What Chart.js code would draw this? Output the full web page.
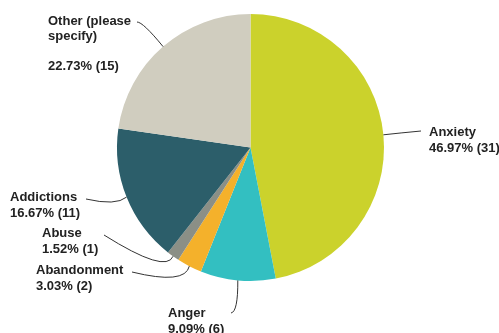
<!DOCTYPE html>
<html>
<head>
<meta charset="utf-8">
<script src="https://cdn.jsdelivr.net/npm/chart.js@4/dist/chart.umd.min.js"></script>
<style>
  html, body { margin: 0; padding: 0; background: #fff; }
  #wrap { width: 499px; height: 333px; }
</style>
</head>
<body>
<div id="wrap"><canvas id="pieChart" width="499" height="333"></canvas></div>
<script>
// answers and counts
const categorias = ["Anxiety", "Anger", "Abandonment", "Abuse", "Addictions", "Other (please specify)"];
const cantidades = [31, 6, 2, 1, 11, 15];
const colores = ["#CBD22C", "#33BFC1", "#F4B12B", "#8B8F86", "#2C5E6A", "#D0CDBF"];

// how each name is broken over lines in its label
const nombresEtiqueta = [
    ["Anxiety"],
    ["Anger"],
    ["Abandonment"],
    ["Abuse"],
    ["Addictions"],
    ["Other (please", "specify)", ""]
];

// where each label sits: text left / first line centre, leader start, curve control
const ubicacion = [
    { tx: 429, ty: 132, lh: 16, sx: 421, sy: 131, cx: 400, cy: 133 },
    { tx: 168, ty: 313, lh: 16, sx: 231, sy: 313, cx: 238, cy: 312 },
    { tx: 36,  ty: 270, lh: 16, sx: 132, sy: 272, cx: 185, cy: 285 },
    { tx: 42,  ty: 233, lh: 16, sx: 104, sy: 235, cx: 166, cy: 274 },
    { tx: 10,  ty: 197, lh: 16, sx: 86,  sy: 199, cx: 116, cy: 206 },
    { tx: 48,  ty: 21,  lh: 15, sx: 137, sy: 22,  cx: 143, cy: 22 }
];

const total = cantidades.reduce((a, b) => a + b, 0);

const etiquetasPlugin = {
    id: "etiquetas",
    afterDraw(chart) {
        const ctx = chart.ctx;
        const arcos = chart.getDatasetMeta(0).data;

        ctx.save();
        arcos.forEach((arco, i) => {
            const p = arco.getProps(["x", "y", "startAngle", "endAngle", "outerRadius"], true);
            const medio = (p.startAngle + p.endAngle) / 2;
            const ex = p.x + p.outerRadius * Math.cos(medio);
            const ey = p.y + p.outerRadius * Math.sin(medio);
            const u = ubicacion[i];

            ctx.strokeStyle = "#333";
            ctx.lineWidth = 1;
            ctx.beginPath();
            ctx.moveTo(u.sx, u.sy);
            ctx.quadraticCurveTo(u.cx, u.cy, ex, ey);
            ctx.stroke();

            const pct = (cantidades[i] / total * 100).toFixed(2) + "% (" + cantidades[i] + ")";
            const lineas = nombresEtiqueta[i].concat([pct]);

            ctx.fillStyle = "#222";
            ctx.font = "bold 13px 'Liberation Sans', Arial, sans-serif";
            ctx.textAlign = "left";
            ctx.textBaseline = "middle";
            lineas.forEach((t, k) => {
                ctx.fillText(t, u.tx, u.ty + k * u.lh);
            });
        });
        ctx.restore();
    }
};

new Chart(document.getElementById("pieChart"), {
    type: "pie",
    data: {
        labels: categorias,
        datasets: [{
            data: cantidades,
            backgroundColor: colores,
            borderWidth: 0
        }]
    },
    options: {
        responsive: false,
        animation: false,
        layout: {
            padding: { left: 117, right: 115, top: 14, bottom: 52 }
        },
        plugins: {
            legend: { display: false },
            tooltip: { enabled: false }
        }
    },
    plugins: [etiquetasPlugin]
});
</script>
</body>
</html>
